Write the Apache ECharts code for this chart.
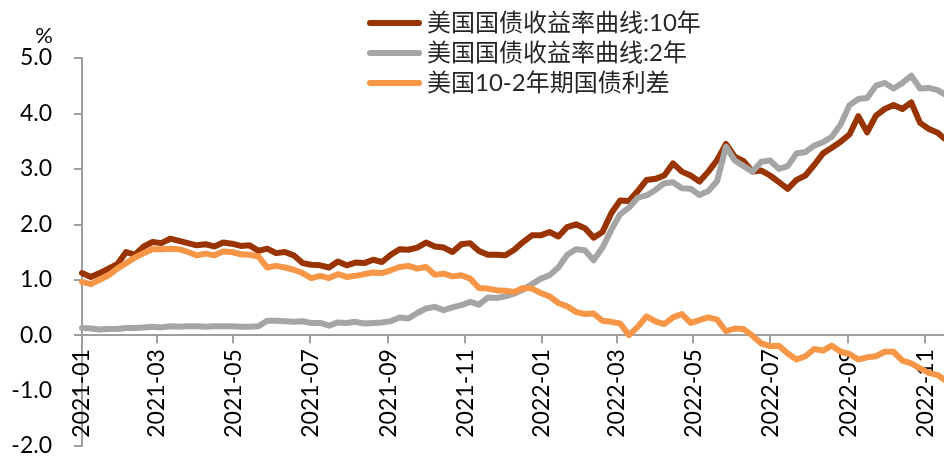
<!DOCTYPE html>
<html lang="zh">
<head>
  <meta charset="UTF-8">
  <title>美国国债收益率曲线</title>
  <script src="https://cdn.jsdelivr.net/npm/echarts@6/dist/echarts.min.js"></script>
  <style>
    html, body { margin: 0; padding: 0; background: #fff; }
    #main { width: 944px; height: 457px; }
  </style>
</head>
<body>
<div id="main"></div>
<script>
  // weekly readings
  const dates = [
    '2021-01-01', '2021-01-08', '2021-01-15', '2021-01-22', '2021-01-29', '2021-02-05', '2021-02-12', '2021-02-19', '2021-02-26', '2021-03-05',
    '2021-03-12', '2021-03-19', '2021-03-26', '2021-04-02', '2021-04-09', '2021-04-16', '2021-04-23', '2021-04-30', '2021-05-07', '2021-05-14',
    '2021-05-21', '2021-05-28', '2021-06-04', '2021-06-11', '2021-06-18', '2021-06-25', '2021-07-02', '2021-07-09', '2021-07-16', '2021-07-23',
    '2021-07-30', '2021-08-06', '2021-08-13', '2021-08-20', '2021-08-27', '2021-09-03', '2021-09-10', '2021-09-17', '2021-09-24', '2021-10-01',
    '2021-10-08', '2021-10-15', '2021-10-22', '2021-10-29', '2021-11-05', '2021-11-12', '2021-11-19', '2021-11-26', '2021-12-03', '2021-12-10',
    '2021-12-17', '2021-12-24', '2021-12-31', '2022-01-07', '2022-01-14', '2022-01-21', '2022-01-28', '2022-02-04', '2022-02-11', '2022-02-18',
    '2022-02-25', '2022-03-04', '2022-03-11', '2022-03-18', '2022-03-25', '2022-04-01', '2022-04-08', '2022-04-15', '2022-04-22', '2022-04-29',
    '2022-05-06', '2022-05-13', '2022-05-20', '2022-05-27', '2022-06-03', '2022-06-10', '2022-06-17', '2022-06-24', '2022-07-01', '2022-07-08',
    '2022-07-15', '2022-07-22', '2022-07-29', '2022-08-05', '2022-08-12', '2022-08-19', '2022-08-26', '2022-09-02', '2022-09-09', '2022-09-16',
    '2022-09-23', '2022-09-30', '2022-10-07', '2022-10-14', '2022-10-21', '2022-10-28', '2022-11-04', '2022-11-11', '2022-11-16'
  ];

  const yield10y = [
    1.12, 1.05, 1.12, 1.20, 1.28, 1.50, 1.45, 1.60, 1.68, 1.66,
    1.74, 1.70, 1.66, 1.62, 1.64, 1.60, 1.67, 1.65, 1.61, 1.62,
    1.52, 1.56, 1.48, 1.50, 1.44, 1.30, 1.27, 1.26, 1.22, 1.33,
    1.26, 1.31, 1.30, 1.36, 1.32, 1.45, 1.55, 1.54, 1.58, 1.67,
    1.60, 1.58, 1.50, 1.64, 1.66, 1.52, 1.45, 1.45, 1.44, 1.54,
    1.68, 1.80, 1.80, 1.86, 1.78, 1.95, 2.00, 1.93, 1.76, 1.86,
    2.20, 2.43, 2.42, 2.60, 2.80, 2.82, 2.88, 3.10, 2.95, 2.88,
    2.77, 2.95, 3.16, 3.45, 3.22, 3.14, 2.95, 2.97, 2.88, 2.76,
    2.64, 2.80, 2.88, 3.07, 3.28, 3.38, 3.49, 3.62, 3.95, 3.66,
    3.96, 4.08, 4.15, 4.08, 4.20, 3.83, 3.72, 3.65, 3.55
  ];

  const yield2y = [
    0.13, 0.12, 0.10, 0.11, 0.11, 0.13, 0.13, 0.14, 0.15, 0.14,
    0.16, 0.15, 0.16, 0.16, 0.15, 0.16, 0.16, 0.16, 0.15, 0.15,
    0.16, 0.26, 0.26, 0.25, 0.24, 0.25, 0.22, 0.22, 0.17, 0.23,
    0.22, 0.24, 0.21, 0.22, 0.23, 0.25, 0.32, 0.30, 0.40, 0.48,
    0.51, 0.45, 0.50, 0.54, 0.60, 0.55, 0.68, 0.67, 0.70, 0.75,
    0.82, 0.92, 1.02, 1.08, 1.22, 1.45, 1.55, 1.53, 1.35, 1.58,
    1.90, 2.18, 2.30, 2.48, 2.52, 2.62, 2.74, 2.76, 2.65, 2.64,
    2.53, 2.60, 2.78, 3.40, 3.15, 3.05, 2.95, 3.13, 3.15, 3.00,
    3.05, 3.28, 3.30, 3.42, 3.48, 3.58, 3.80, 4.15, 4.26, 4.28,
    4.50, 4.55, 4.45, 4.55, 4.68, 4.45, 4.46, 4.42, 4.35
  ];

  const spread = [
    0.96, 0.92, 1.00, 1.08, 1.20, 1.30, 1.40, 1.48, 1.55, 1.55,
    1.56, 1.55, 1.50, 1.44, 1.47, 1.44, 1.51, 1.50, 1.46, 1.45,
    1.42, 1.22, 1.25, 1.22, 1.18, 1.12, 1.03, 1.07, 1.03, 1.10,
    1.05, 1.07, 1.10, 1.13, 1.12, 1.17, 1.23, 1.25, 1.20, 1.23,
    1.09, 1.11, 1.06, 1.08, 1.02, 0.85, 0.84, 0.81, 0.80, 0.78,
    0.85, 0.84, 0.76, 0.70, 0.58, 0.52, 0.42, 0.38, 0.39, 0.26,
    0.24, 0.21, 0.00, 0.15, 0.34, 0.25, 0.20, 0.32, 0.38, 0.22,
    0.27, 0.32, 0.28, 0.07, 0.12, 0.11, -0.01, -0.15, -0.20, -0.19,
    -0.33, -0.44, -0.38, -0.25, -0.28, -0.19, -0.30, -0.34, -0.44, -0.40,
    -0.38, -0.30, -0.30, -0.46, -0.51, -0.60, -0.68, -0.72, -0.80
  ];

  const tickMonths = ['2021-01-01', '2021-03-01', '2021-05-01', '2021-07-01', '2021-09-01', '2021-11-01',
    '2022-01-01', '2022-03-01', '2022-05-01', '2022-07-01', '2022-09-01', '2022-11-01'];

  const names = ['美国国债收益率曲线:10年', '美国国债收益率曲线:2年', '美国10-2年期国债利差'];
  const colors = ['#993300', '#a5a5a5', '#f79646'];

  const toTime = (s) => {
    const p = s.split('-').map(Number)
    return new Date(p[0], p[1] - 1, p[2]).getTime()
  }
  const pad = (n) => (n < 10 ? '0' : '') + n
  const tickTimes = tickMonths.map(toTime)
  const axisGray = '#9f9f9f'
  const latin = 'Lato, "Liberation Sans", sans-serif'

  const pairs = (vals) => dates.map((d, i) => [toTime(d), vals[i]])

  // grid box, and how far the zero line sits above its bottom edge
  const gridTop = 58, gridBottom = 11, yMin = -2, yMax = 5
  const plotH = 457 - gridTop - gridBottom
  const zeroLift = plotH * (0 - yMin) / (yMax - yMin)

  const chart = echarts.init(document.getElementById('main'))

  const option = {
    animation: false,
    color: colors,
    grid: { left: 82, right: 0, top: gridTop, bottom: gridBottom, containLabel: false, outerBoundsMode: 'none' },
    legend: {
      orient: 'vertical',
      left: 362,
      top: 6,
      itemGap: 6,
      itemWidth: 55,
      itemHeight: 7,
      icon: 'path://M3,0 H52 A3,3 0 0 1 52,6 H3 A3,3 0 0 1 3,0 Z',
      textStyle: {
        fontSize: 24,
        color: '#262626',
        fontFamily: 'Lato, "Noto Sans CJK SC", sans-serif'
      },
      data: names
    },
    // dates on a plain value axis so the ticks can sit on month starts
    xAxis: {
      type: 'value',
      min: toTime(dates[0]),
      max: toTime(dates[dates.length - 1]),
      position: 'bottom',
      offset: -zeroLift,
      axisLine: { onZero: false, lineStyle: { color: axisGray, width: 2 } },
      axisTick: { show: true, length: 8, customValues: tickTimes, lineStyle: { color: axisGray, width: 2 } },
      axisLabel: {
        customValues: tickTimes,
        rotate: 90,
        margin: 14,
        fontSize: 23,
        color: '#000',
        fontFamily: latin,
        formatter: (v) => {
          const d = new Date(v)
          return d.getFullYear() + '-' + pad(d.getMonth() + 1)
        }
      },
      splitLine: { show: false }
    },
    yAxis: {
      type: 'value',
      min: yMin,
      max: yMax,
      interval: 1,
      name: '%',
      nameLocation: 'end',
      nameGap: 11,
      nameTextStyle: { fontSize: 22, color: '#000', fontFamily: latin, align: 'right', padding: [0, 29, 0, 0] },
      axisLine: { show: true, lineStyle: { color: axisGray, width: 2 } },
      axisTick: { show: true, length: 8, lineStyle: { color: axisGray, width: 2 } },
      axisLabel: {
        margin: 30,
        fontSize: 23,
        color: '#000',
        fontFamily: latin,
        formatter: (v) => v.toFixed(1)
      },
      splitLine: { show: false }
    },
    series: [
      { name: names[0], type: 'line', data: pairs(yield10y) },
      { name: names[1], type: 'line', data: pairs(yield2y) },
      { name: names[2], type: 'line', data: pairs(spread) }
    ].map((s) => Object.assign(s, {
      showSymbol: false,
      symbol: 'none',
      lineStyle: { width: 6, cap: 'round', join: 'round' }
    }))
  }

  chart.setOption(option)
</script>
</body>
</html>
